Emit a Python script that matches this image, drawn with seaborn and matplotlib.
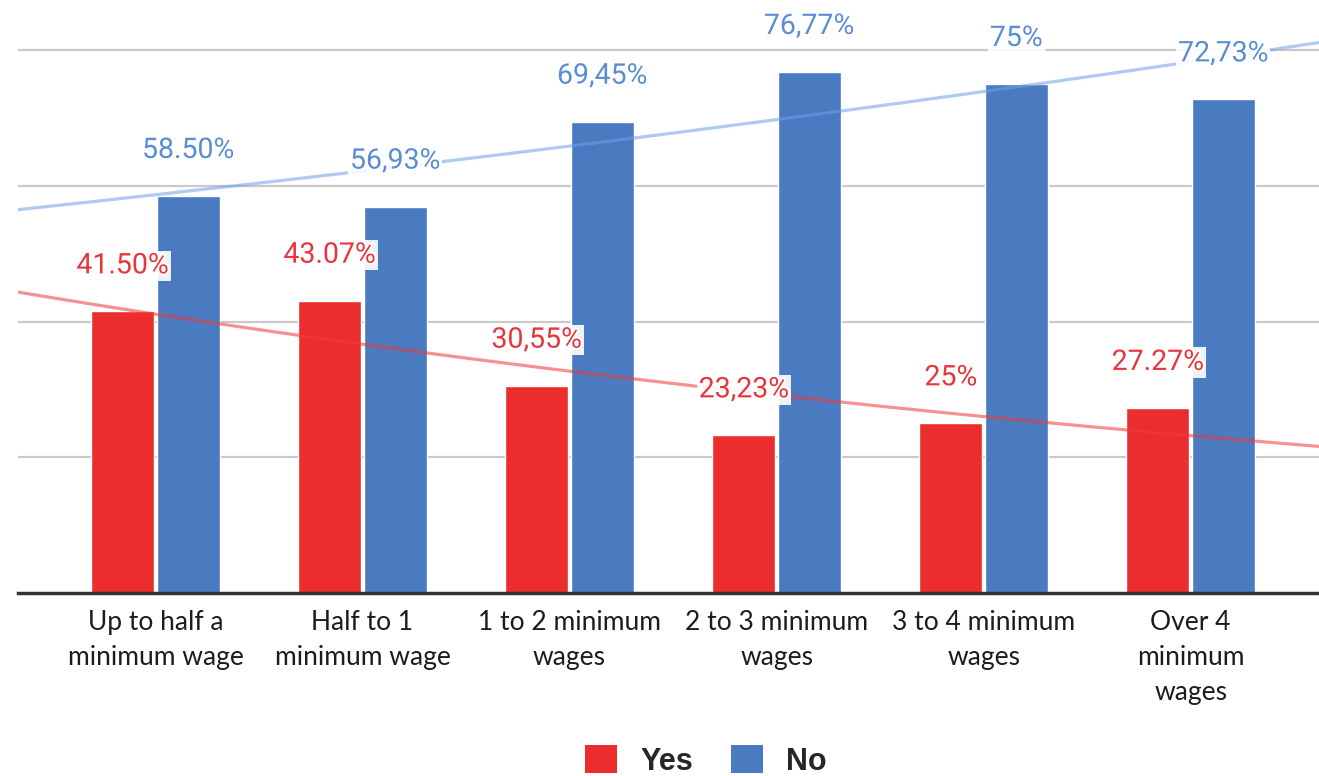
import numpy as np
import pandas as pd
import matplotlib
matplotlib.use("Agg")
import matplotlib.pyplot as plt
import matplotlib.patheffects as pe
from matplotlib.patches import Patch
import seaborn as sns

# Income brackets and share of answers per bracket
categories = [
    "Up to half a\nminimum wage",
    "Half to 1\nminimum wage",
    "1 to 2 minimum\nwages",
    "2 to 3 minimum\nwages",
    "3 to 4 minimum\nwages",
    "Over 4\nminimum\nwages",
]
yes_values = [41.50, 43.07, 30.55, 23.23, 25.00, 27.27]
no_values = [58.50, 56.93, 69.45, 76.77, 75.00, 72.73]
yes_labels = ["41.50%", "43.07%", "30,55%", "23,23%", "25%", "27.27%"]
no_labels = ["58.50%", "56,93%", "69,45%", "76,77%", "75%", "72,73%"]
series_names = ["Yes", "No"]

RED = "#ec2d2d"
BLUE = "#4a7bc0"
RED_TXT = "#e8343a"
BLUE_TXT = "#5a8dd4"

df = pd.DataFrame({
    "category": categories * 2,
    "answer": [series_names[0]] * len(categories) + [series_names[1]] * len(categories),
    "value": yes_values + no_values,
})

sns.set_style("white")
plt.rcParams["font.family"] = ["Lato", "DejaVu Sans"]

W, H = 1319, 776
fig = plt.figure(figsize=(W / 100, H / 100), dpi=100)
ax = fig.add_axes([18 / W, 183 / H, 1301 / W, 593 / H])

sns.barplot(
    data=df, x="category", y="value", hue="answer",
    order=categories, hue_order=series_names,
    palette=[RED, BLUE], width=0.633, gap=0.04,
    saturation=1, legend=False, ax=ax, zorder=2,
)

# Exponential trend lines across the whole plot width
xs = np.linspace(-0.8, 5.8, 300)
idx = np.arange(len(categories))
for vals, col in [(no_values, "#6d9eeb"), (yes_values, "#f03838")]:
    b, a = np.polyfit(idx, np.log(vals), 1)
    ax.plot(xs, np.exp(a + b * xs), color=col, lw=2.3, alpha=0.55, zorder=3,
            solid_capstyle="butt")

# Value labels above each bar
label_sets = [(yes_values, yes_labels, RED_TXT), (no_values, no_labels, BLUE_TXT)]
for cont, (vals, labs, col) in zip(ax.containers, label_sets):
    for bar, v, lab in zip(cont.patches, vals, labs):
        cx = bar.get_x() + bar.get_width() / 2
        ax.text(cx, v + 6.7, lab, ha="center", va="center", color=col,
                fontsize=20.5, family=["Roboto", "DejaVu Sans"], zorder=5,
                bbox=dict(boxstyle="square,pad=0.06", fc="white", ec="none", alpha=0.9),
                path_effects=[pe.withStroke(linewidth=3, foreground="white")])

ax.set_xlim(-0.664, 5.62)
ax.set_ylim(0, 87.37)
ax.set_yticks([20, 40, 60, 80])
ax.yaxis.grid(True, color="#c9c9c9", lw=1.6, zorder=0)
ax.set_axisbelow(True)
ax.tick_params(axis="y", left=False, labelleft=False)
ax.tick_params(axis="x", bottom=False, pad=9, labelsize=19, labelcolor="#1c1c1c")
for lbl in ax.get_xticklabels():
    lbl.set_linespacing(1.5)
    lbl.set_verticalalignment("top")
ax.set_xlabel("")
ax.set_ylabel("")
for side in ["top", "left", "right"]:
    ax.spines[side].set_visible(False)
ax.spines["bottom"].set_color("#333333")
ax.spines["bottom"].set_linewidth(2.5)
ax.spines["bottom"].set_zorder(4)

handles = [Patch(facecolor=RED, edgecolor="none"), Patch(facecolor=BLUE, edgecolor="none")]
fig.legend(handles, series_names, loc="center", bbox_to_anchor=(706 / W, 1 - 761 / H),
           ncol=2, frameon=False, handlelength=1.05, handleheight=1.0,
           handletextpad=0.75, columnspacing=1.25,
           prop={"family": ["Liberation Sans", "DejaVu Sans"], "weight": "bold", "size": 22})

fig.savefig("out.png", dpi=100, facecolor="white")
